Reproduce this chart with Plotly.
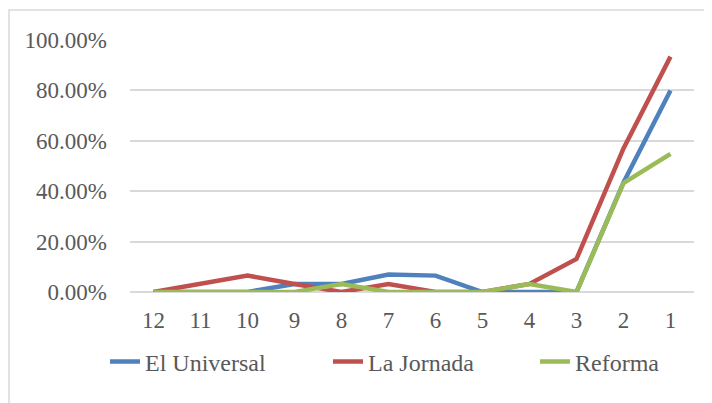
import plotly.graph_objects as go

categories = ["12", "11", "10", "9", "8", "7", "6", "5", "4", "3", "2", "1"]
el_universal = [0.0, 0.0, 0.0, 0.032, 0.032, 0.069, 0.065, 0.0, 0.0, 0.0, 0.435, 0.80]
la_jornada = [0.0, 0.032, 0.065, 0.032, 0.0, 0.032, 0.0, 0.0, 0.032, 0.131, 0.57, 0.934]
reforma = [0.0, 0.0, 0.0, 0.0, 0.032, 0.0, 0.0, 0.0, 0.032, 0.0, 0.432, 0.548]
y_ticks = [0, 0.2, 0.4, 0.6, 0.8, 1.0]

series = [
    ("El Universal", el_universal, "#4F81BD", "legend", 105),
    ("La Jornada", la_jornada, "#C0504D", "legend2", 328),
    ("Reforma", reforma, "#9BBB59", "legend3", 535),
]

OFF = 8  # page body margin
W, H = 712 - OFF, 403 - OFF
L, T = 130 - OFF, 40 - OFF
R = W - (694 - OFF)
B = H - (292 - OFF)
pw, ph = W - L - R, H - T - B

def px_x(x):
    return (x - OFF - L) / pw

def px_y(y):
    return (T + ph - (y - OFF)) / ph

font = dict(family="Liberation Serif, Times New Roman, serif", size=23, color="#595959")
lfont = dict(family="Liberation Serif, Times New Roman, serif", size=24, color="#595959")

fig = go.Figure()
legends = {}
for name, vals, color, lg, lx in series:
    fig.add_trace(go.Scatter(
        x=categories, y=vals, name=name, mode="lines",
        line=dict(color=color, width=4.5), legend=lg,
    ))
    legends[lg] = dict(
        orientation="h", x=px_x(lx), xanchor="left",
        y=px_y(362), yanchor="middle",
        font=lfont, itemwidth=30, bgcolor="rgba(0,0,0,0)",
    )

fig.update_layout(
    width=W, height=H,
    margin=dict(l=L, r=R, t=T, b=B),
    plot_bgcolor="white", paper_bgcolor="white",
    font=font,
    showlegend=True,
    **legends,
    xaxis=dict(
        type="category", range=[-0.5, 11.5], showgrid=False,
        showline=False, zeroline=False, ticks="", ticklabelstandoff=12,
        tickfont=font,
    ),
    yaxis=dict(
        range=[0, 1.0], tickvals=y_ticks, tickformat=".2%",
        showgrid=True, gridcolor="#D9D9D9", gridwidth=1.5,
        zeroline=True, zerolinecolor="#D9D9D9", zerolinewidth=1.5,
        showline=False, ticks="", ticklabelstandoff=22, tickfont=font,
    ),
    shapes=[dict(
        type="rect", xref="paper", yref="paper",
        x0=px_x(OFF + 1), x1=px_x(730),
        y0=px_y(430), y1=px_y(10),
        line=dict(color="#D9D9D9", width=1.5), layer="below",
    )],
)

fig.write_html("out.html")
